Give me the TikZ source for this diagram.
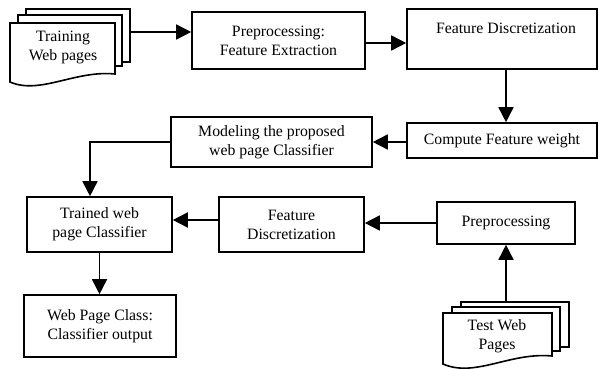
\documentclass[tikz,border=0pt]{standalone}
\usepackage{fontspec}
\setmainfont{Liberation Serif}
\usetikzlibrary{arrows.meta}
\begin{document}
\begin{tikzpicture}[x=1pt,y=-1pt,
  every node/.style={font=\fontsize{15.8}{19}\selectfont},
  box/.style={draw, line width=1.6pt, fill=white, align=center, inner sep=0pt},
  page/.style={draw, line width=1.6pt, fill=white, line join=miter},
  arr/.style={line width=1.6pt, -{Triangle[length=15pt,width=15pt]}}]
\useasboundingbox (0,0) rectangle (598,369);
% Training web pages
\draw[page] (26,9) rectangle (130,62);
\draw[page] (18,15) rectangle (122,66);
\draw[page] (10,23) -- (115,23) -- (115,74) .. controls (75,70) and (40,95) .. (10,82) -- cycle;
\node (train) at (63,47) [align=center] {Training\\Web pages};
\coordinate (trout) at (130,32);
% Test web pages
\draw[page] (461,302) rectangle (569,347);
\draw[page] (452,307) rectangle (560,351);
\draw[page] (443,313) -- (552,313) -- (552,356) .. controls (510,352) and (475,378) .. (443,364) -- cycle;
\node (test) at (497,336) [align=center] {Test Web\\Pages};
\coordinate (testout) at (506,302);
% boxes
\node[box, minimum width=173pt, minimum height=57pt] (pre) at (278.5,40.5) {Preprocessing:\\Feature Extraction};
\node[box, minimum width=190pt, minimum height=60pt] (fd) at (502,39) {};
\node (fdt) at (506,28) {Feature Discretization};
\node[box, minimum width=190pt, minimum height=35pt] (cfw) at (502,140.5) {Compute Feature weight};
\node[box, minimum width=201pt, minimum height=50pt] (mod) at (271.5,142) {Modeling the proposed\\web page Classifier};
\node[box, minimum width=145pt, minimum height=55pt] (trn) at (99.5,224.5) {Trained web\\page Classifier};
\node[box, minimum width=145pt, minimum height=55pt] (fd2) at (291.5,224.5) {Feature\\Discretization};
\node[box, minimum width=138pt, minimum height=42pt] (pp) at (506,223) {Preprocessing};
\node[box, minimum width=152pt, minimum height=62pt] (wpc) at (100,326) {Web Page Class:\\Classifier output};
% connectors
\draw[arr] (trout) -- (trout -| pre.west);
\draw[arr] ([yshift=-2.5pt]pre.east) -- ([yshift=-2.5pt]pre.east -| fd.west);
\draw[arr] ([xshift=4pt]fd.south) -- ([xshift=4pt]cfw.north);
\draw[arr] ([yshift=-1.5pt]cfw.west) -- ([yshift=-1.5pt]cfw.west -| mod.east);
\draw[arr] (mod.west) -| ([xshift=-9.5pt]trn.north);
\draw[arr] ([yshift=4.5pt]fd2.west) -- ([yshift=4.5pt]fd2.west -| trn.east);
\draw[arr] (pp.west) -- (pp.west -| fd2.east);
\draw[arr] (testout) -- (testout |- pp.south);
\draw[arr] (trn.south) -- (trn.south |- wpc.north);
\end{tikzpicture}
\end{document}
